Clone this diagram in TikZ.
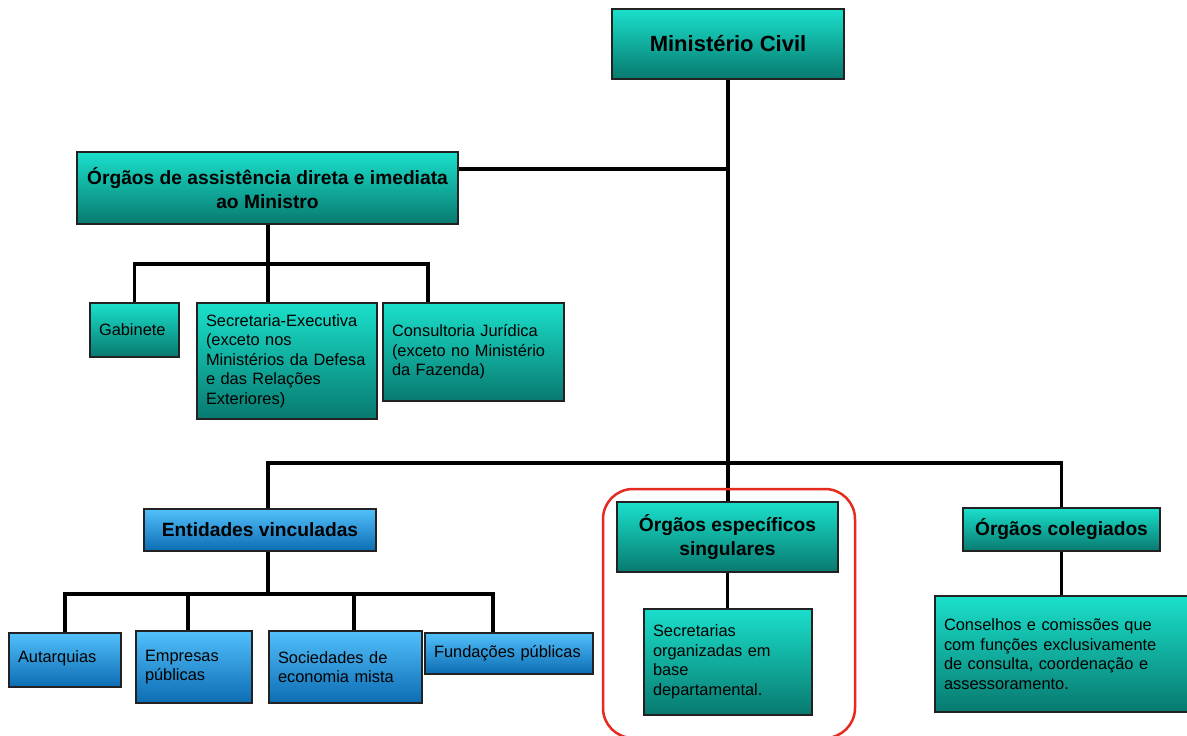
\documentclass[tikz,border=0pt]{standalone}
\usepackage{fontspec}
\setmainfont{Liberation Sans}
\definecolor{tealtop}{HTML}{1AE0CB}
\definecolor{tealbot}{HTML}{08796F}
\definecolor{bluetop}{HTML}{52C0FB}
\definecolor{bluebot}{HTML}{0C6CB3}
\definecolor{boxline}{HTML}{222222}
\definecolor{hilite}{HTML}{E62A1F}
\pgfdeclarelayer{back}
\pgfdeclarelayer{bg}
\pgfsetlayers{back,bg,main}
\begin{document}
\begin{tikzpicture}[x=1pt,y=-1pt,
  box/.style={draw=boxline, line width=1.2pt, rectangle, inner sep=0pt, inner xsep=9pt, top color=tealtop, bottom color=tealbot},
  hdr/.style={box, align=center, font=\bfseries\fontsize{19.2}{23.5}\selectfont},
  txt/.style={box, align=left, font=\fontsize{16.4}{19.5}\selectfont},
  bluebox/.style={top color=bluetop, bottom color=bluebot},
  conn/.style={draw=black, line width=3.3pt},
  redframe/.style={draw=hilite, line width=2.5pt, rounded corners=30pt}]
\useasboundingbox (0,0) rectangle (1187,736);
\begin{pgfonlayer}{back}
\fill[white] (0,0) rectangle (1187,736);
\end{pgfonlayer}

\node[hdr, minimum width=232, minimum height=70, font=\bfseries\fontsize{22}{26}\selectfont] (min) at (728,44) {Ministério Civil};
\node[hdr, minimum width=381, minimum height=72] (ass) at (267.5,188) {Órgãos de assistência direta e imediata\\ao Ministro};
\node[txt, text width=71, minimum height=54] (gab) at (134.5,330) {Gabinete};
\node[txt, text width=162, minimum height=116] (sec) at (287,361) {Secretaria-Executiva\\(exceto nos\\Ministérios da Defesa\\e das Relações\\Exteriores)};
\node[txt, text width=163, minimum height=98] (cons) at (473.5,352) {Consultoria Jurídica\\(exceto no Ministério\\da Fazenda)};
\node[hdr, bluebox, minimum width=232, minimum height=42] (ent) at (260,530) {Entidades vinculadas};
\node[hdr, minimum width=221, minimum height=70] (esp) at (727.5,537) {Órgãos específicos\\singulares};
\node[hdr, minimum width=197, minimum height=43] (col) at (1061.5,529.5) {Órgãos colegiados};
\node[txt, bluebox, text width=94, minimum height=54] (aut) at (65,660) {\raisebox{6pt}{Autarquias}};
\node[txt, bluebox, text width=98, minimum height=72] (emp) at (194,667) {Empresas\\públicas};
\node[txt, bluebox, text width=135, minimum height=72] (soc) at (345.5,667) {Sociedades de\\economia mista};
\node[txt, bluebox, text width=150, minimum height=41] (fun) at (509,653.5) {Fundações públicas};
\node[txt, text width=150, minimum height=106] (secr) at (728,662) {Secretarias\\organizadas em\\base\\departamental.};
\node[txt, text width=239, minimum height=116] (cons2) at (1063.5,654) {Conselhos e comissões que\\com funções exclusivamente\\de consulta, coordenação e\\assessoramento.};

\draw[redframe] (603,489) rectangle (855,738);

\coordinate (jA) at (728,169);
\coordinate (jM) at (728,463);
\coordinate (eA) at (268,463);
\coordinate (eB) at (268,594);
\coordinate (emT) at (188,594);
\coordinate (soT) at (354,594);
\coordinate (fT) at (493,594);
\coordinate (aB) at (268,264);
\coordinate (cT) at (428,264);

\begin{pgfonlayer}{bg}
\draw[conn] (min.south) -- (min.south |- esp.north);
\draw[conn] (ass.east |- jA) -- (jA);
\draw[conn] (eA |- ent.north) -- (eA) -- (jM) -| (col.north);
\draw[conn] (aB |- ass.south) -- (aB);
\draw[conn] (gab.north) |- (aB) -- (cT) -- (cT |- cons.north);
\draw[conn] (aB) -- (aB |- sec.north);
\draw[conn] (eB |- ent.south) -- (eB);
\draw[conn] (aut.north) |- (eB) -- (fT) -- (fT |- fun.north);
\draw[conn] (emT) -- (emT |- emp.north);
\draw[conn] (soT) -- (soT |- soc.north);
\draw[conn] (esp.south) -- (esp.south |- secr.north);
\draw[conn] (col.south) -- (col.south |- cons2.north);
\end{pgfonlayer}
\end{tikzpicture}
\end{document}
